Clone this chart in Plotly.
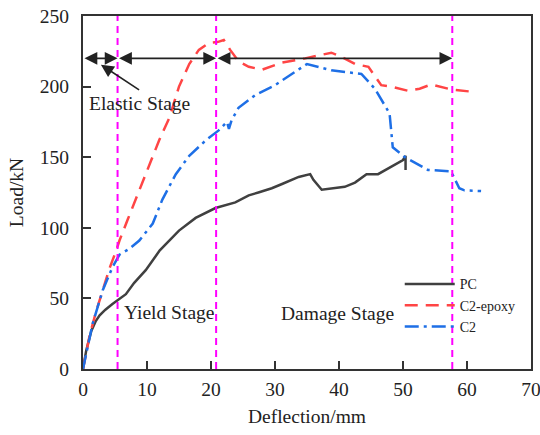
import plotly.graph_objects as go

# ---- data ----
pc_x = [0, 0.5, 1.3, 2.0, 2.6, 3.5, 4.6, 5.7, 6.7, 8.0, 9.8, 12.0, 15.0, 17.6, 20.7, 23.8,
        25.9, 27.4, 29.5, 31.1, 33.7, 35.5, 36.0, 37.3, 39.0, 40.9, 42.5, 44.3, 46.1, 47.7,
        50.0, 50.4, 50.4]
pc_y = [0, 13, 27, 34, 38, 42, 46, 50, 53, 61, 70, 84, 98, 107, 114, 118,
        123, 125, 128, 131, 136, 138, 134, 127, 128, 129, 132, 138, 138, 142,
        148, 151, 141]

ep_x = [0, 1.0, 2.0, 3.1, 4.2, 5.2, 5.7, 7.0, 8.3, 9.8, 11.9, 13.5, 15.0, 16.6, 18.1, 19.7,
        21.0, 22.0, 23.0, 24.3, 25.9, 28.0, 31.1, 34.7, 38.8, 40.4, 42.5, 44.6, 46.6, 48.2,
        50.8, 52.6, 54.4, 57.5, 61.5]
ep_y = [0, 23, 40, 56, 72, 84, 91, 106, 121, 138, 162, 178, 200, 216, 226, 231,
        231.5, 233, 226, 218, 214, 212, 217, 220, 224, 221, 216, 214, 201, 200,
        197, 198.5, 201.5, 198, 196]

c2_x = [0, 1.5, 3.1, 4.6, 5.7, 7.2, 8.8, 10.9, 12.4, 14.5, 16.6, 19.2, 21.2, 22.5, 22.8, 23.2,
        24.3, 26.9, 30.0, 32.6, 35.0, 38.8, 43.5, 45.6, 47.9, 48.4, 50.3, 53.9, 57.5, 58.8,
        59.6, 62.2]
c2_y = [0, 32, 56, 72, 81, 85, 91, 103, 120, 138, 151, 162, 169, 175, 170, 176,
        185, 194, 201, 209, 216, 211.5, 209, 198.5, 181, 157, 150, 141, 140, 128,
        126.5, 126]

series_names = ["PC", "C2-epoxy", "C2"]
stage_bounds = [0, 5.4, 20.8, 57.7]       # vertical dashed lines at 5.4, 20.8, 57.7
arrow_load = 220
stage_labels = ["Elastic Stage", "Yield Stage", "Damage Stage"]
stage_label_x = [8.9, 13.4, 39.7]
stage_label_y = [188, 40.3, 39.6]
elastic_arrow_tip = (2.8, 215.5)
elastic_arrow_tail = (9.0, 197)

x_ticks = [0, 10, 20, 30, 40, 50, 60, 70]
y_ticks = [0, 50, 100, 150, 200, 250]

FONT = "Liberation Serif"

fig = go.Figure()
fig.add_trace(go.Scatter(x=pc_x, y=pc_y, mode="lines", name=series_names[0],
                         line=dict(color="#404040", width=2.5)))
fig.add_trace(go.Scatter(x=ep_x, y=ep_y, mode="lines", name=series_names[1],
                         line=dict(color="#FF4545", width=2.5, dash="13px,8px")))
fig.add_trace(go.Scatter(x=c2_x, y=c2_y, mode="lines", name=series_names[2],
                         line=dict(color="#1E6FE6", width=2.5, dash="14px,5px,3px,5px")))

shapes = []
for xb in stage_bounds[1:]:
    shapes.append(dict(type="line", xref="x", yref="paper", x0=xb, x1=xb, y0=0, y1=1,
                       line=dict(color="#FF00FF", width=2, dash="7px,5px"), layer="above"))

annotations = []
for a, b in zip(stage_bounds[:-1], stage_bounds[1:]):
    annotations.append(dict(x=b, y=arrow_load, ax=a, ay=arrow_load, xref="x", yref="y",
                            axref="x", ayref="y", text="", showarrow=True,
                            arrowhead=2, startarrowhead=2, arrowside="end+start",
                            arrowsize=1.6, startarrowsize=1.6, arrowwidth=1.6,
                            arrowcolor="#222222"))
annotations.append(dict(x=elastic_arrow_tip[0], y=elastic_arrow_tip[1],
                        ax=elastic_arrow_tail[0], ay=elastic_arrow_tail[1],
                        xref="x", yref="y", axref="x", ayref="y", text="", showarrow=True,
                        arrowhead=2, arrowsize=1.6, arrowwidth=1.6, arrowcolor="#222222"))
for t, lx, ly in zip(stage_labels, stage_label_x, stage_label_y):
    annotations.append(dict(x=lx, y=ly, xref="x", yref="y", text=t, showarrow=False,
                            font=dict(family=FONT, size=19.5, color="#222222")))

axis_common = dict(showline=True, linecolor="#333333", linewidth=2, mirror=True,
                   ticks="inside", ticklen=8, tickwidth=2, tickcolor="#333333",
                   showgrid=False, zeroline=False, automargin=False,
                   ticklabeloverflow="allow",
                   tickfont=dict(family=FONT, size=19.5, color="#222222"))

fig.update_layout(
    width=540, height=435,
    margin=dict(l=83, r=9, t=16, b=66),
    paper_bgcolor="white", plot_bgcolor="white",
    showlegend=True,
    legend=dict(x=0.707, y=0.285, xanchor="left", yanchor="top", itemwidth=50,
                bgcolor="rgba(0,0,0,0)", font=dict(family=FONT, size=14, color="#222222"),
                tracegroupgap=0),
    xaxis=dict(range=[0, 70], tickvals=x_ticks, ticklabelstandoff=2,
               title=dict(text="Deflection/mm", standoff=10,
                          font=dict(family=FONT, size=19.5, color="#222222")),
               **axis_common),
    yaxis=dict(range=[0, 250], tickvals=y_ticks, ticklabelstandoff=8,
               title=dict(text="Load/kN", standoff=11,
                          font=dict(family=FONT, size=19.5, color="#222222")),
               **axis_common),
    shapes=shapes, annotations=annotations,
)

fig.write_html("out.html", config={"displayModeBar": False},
               post_script="document.body.style.margin='0';document.body.style.overflow='hidden';")
